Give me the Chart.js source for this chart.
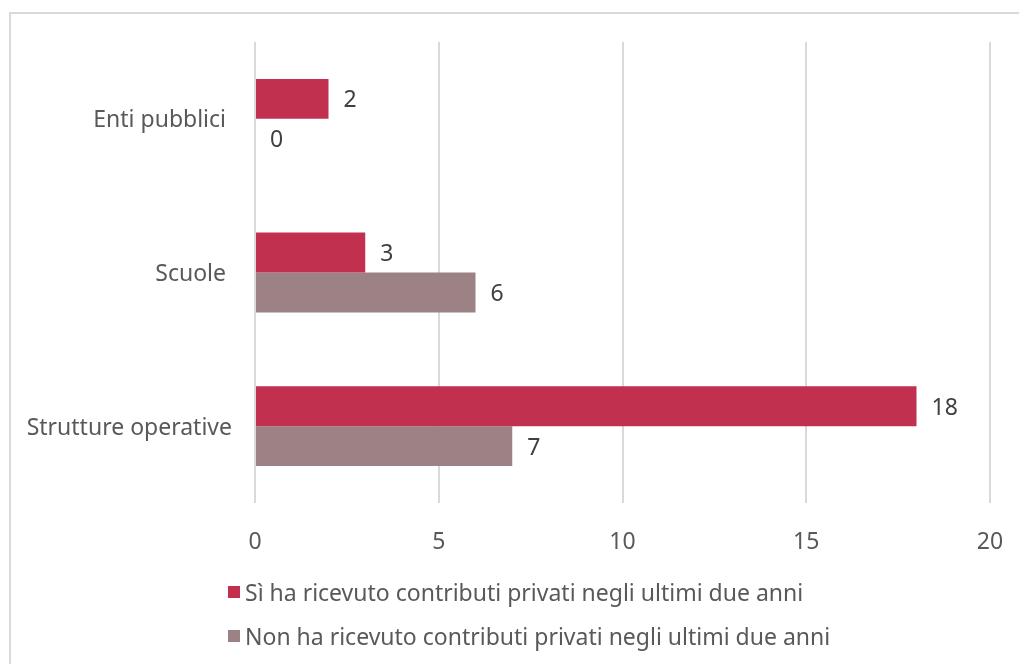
<!DOCTYPE html>
<html>
<head>
<meta charset="utf-8">
<script src="https://cdn.jsdelivr.net/npm/chart.js@4/dist/chart.umd.min.js"></script>
<style>
  html, body { margin: 0; padding: 0; background: #fff; }
  #wrap { position: relative; width: 1019px; height: 664px; overflow: hidden; }
  #frame { position: absolute; left: 9px; top: 12px; width: 1030px; height: 700px;
           border: 2px solid #d9d9d9; box-sizing: border-box; }
  #chart { position: absolute; left: 0; top: 0; }
  #legend { position: absolute; left: 228px; top: 570px; font-family: "Noto Sans", sans-serif;
            font-size: 23px; color: #595959; }
  #legend .item { height: 44px; display: flex; align-items: center; }
  #legend .box { width: 12px; height: 12px; margin-right: 5px; }
</style>
</head>
<body>
<div id="wrap">
  <div id="frame"></div>
  <canvas id="chart" width="1019" height="664"></canvas>
  <div id="legend"></div>
</div>
<script>
// categories, top to bottom
var categories = ["Enti pubblici ", "Scuole ", "Strutture operative"];
var seriesNames = [
  "Sì ha ricevuto contributi privati negli ultimi due anni",
  "Non ha ricevuto contributi privati negli ultimi due anni"
];
var valuesYes = [2, 3, 18];
var valuesNo = [0, 6, 7];
var xTicks = [0, 5, 10, 15, 20];
var colors = ["#c2304f", "#9c8285"];

var fontFamily = "'Noto Sans', sans-serif";

// writes the value next to the end of every bar
var valueLabels = {
  id: "valueLabels",
  afterDatasetsDraw: function(chart) {
    var ctx = chart.ctx;
    ctx.save();
    ctx.font = "23px " + fontFamily;
    ctx.fillStyle = "#404040";
    ctx.textAlign = "left";
    ctx.textBaseline = "middle";
    chart.data.datasets.forEach(function(ds, i) {
      chart.getDatasetMeta(i).data.forEach(function(bar, j) {
        ctx.fillText(String(ds.data[j]), bar.x + 15, bar.y + 2);
      });
    });
    ctx.restore();
  }
};

var ctx = document.getElementById("chart").getContext("2d");
var chart = new Chart(ctx, {
  type: "bar",
  data: {
    labels: categories,
    datasets: [
      { label: seriesNames[0], data: valuesYes, backgroundColor: colors[0] },
      { label: seriesNames[1], data: valuesNo, backgroundColor: colors[1] }
    ]
  },
  options: {
    indexAxis: "y",
    responsive: false,
    animation: false,
    categoryPercentage: 0.52,
    barPercentage: 1.0,
    layout: { padding: { top: 42, right: 29, left: 0, bottom: 0 } },
    plugins: { legend: { display: false }, tooltip: { enabled: false } },
    scales: {
      x: {
        min: 0,
        max: 20,
        afterBuildTicks: function(scale) {
          scale.ticks = xTicks.map(function(v) { return { value: v }; });
        },
        afterFit: function(scale) {
          scale.height = 161;
          scale.paddingLeft = 0;
          scale.paddingRight = 0;
        },
        grid: { color: "#d9d9d9", lineWidth: 2, drawTicks: false },
        border: { display: false },
        ticks: { padding: 26, color: "#595959", font: { family: fontFamily, size: 23 } }
      },
      y: {
        afterFit: function(scale) { scale.width = 255; },
        grid: { display: false, drawTicks: false },
        border: { display: false },
        ticks: { padding: 23, labelOffset: 2, color: "#595959", font: { family: fontFamily, size: 23 } }
      }
    }
  },
  plugins: [valueLabels]
});

// legend stacked under the plot
var legend = document.getElementById("legend");
seriesNames.forEach(function(name, i) {
  var item = document.createElement("div");
  item.className = "item";
  var box = document.createElement("span");
  box.className = "box";
  box.style.background = colors[i];
  var txt = document.createElement("span");
  txt.textContent = name;
  item.appendChild(box);
  item.appendChild(txt);
  legend.appendChild(item);
});
</script>
</body>
</html>
